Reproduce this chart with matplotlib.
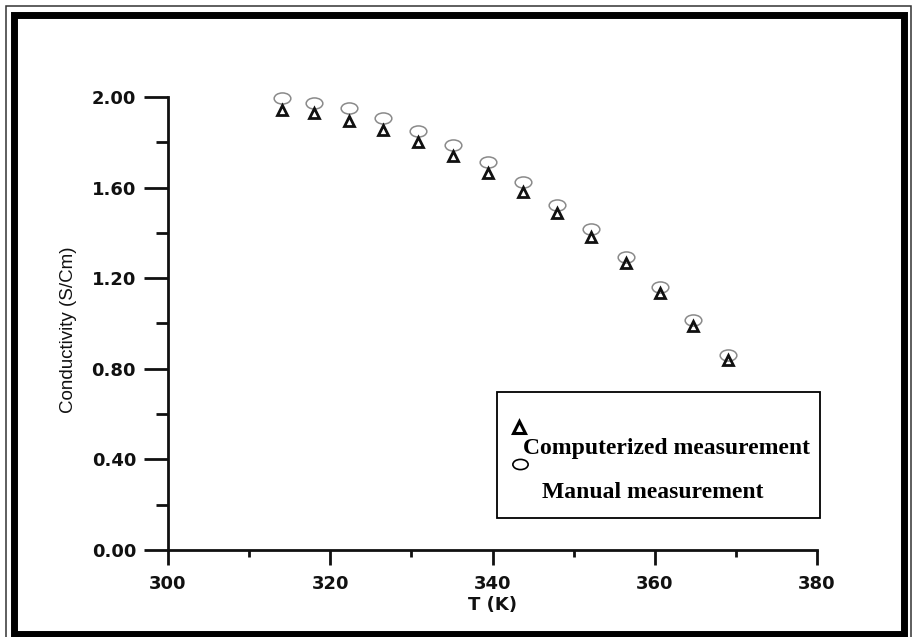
import numpy as np
import matplotlib
matplotlib.use("Agg")
import matplotlib.pyplot as plt
from matplotlib.patches import Rectangle
from matplotlib.path import Path
from matplotlib.transforms import Affine2D
from matplotlib.lines import Line2D

# data
temp_k = [314.0, 318.0, 322.3, 326.5, 330.8, 335.1, 339.4, 343.7, 348.0, 352.1, 356.4, 360.6, 364.7, 369.0]
manual = [1.996, 1.975, 1.950, 1.906, 1.851, 1.788, 1.712, 1.626, 1.523, 1.417, 1.295, 1.162, 1.015, 0.861]
computerized = [1.943, 1.928, 1.895, 1.854, 1.803, 1.740, 1.666, 1.582, 1.487, 1.382, 1.267, 1.135, 0.989, 0.839]

x_ticks = [300, 320, 340, 360, 380]
y_ticks = [0.0, 0.4, 0.8, 1.2, 1.6, 2.0]

W, H = 917, 637
fig = plt.figure(figsize=(W / 100, H / 100), dpi=100)

# axes placed in pixel terms
left, right, top, bottom = 168, 817, 97, 550
ax = fig.add_axes([left / W, 1 - bottom / H, (right - left) / W, (bottom - top) / H])

# flattened ellipse marker for the manual points
ellipse = Path.unit_circle().transformed(Affine2D().scale(1.5, 1.0))

ax.plot(temp_k, manual, linestyle="none", marker=ellipse, markersize=12,
        markerfacecolor="none", markeredgecolor="#8a8a8a", markeredgewidth=1.1, clip_on=False)
ax.plot(temp_k, computerized, linestyle="none", marker="^", markersize=7,
        markerfacecolor="none", markeredgecolor="#111111", markeredgewidth=2.0, clip_on=False)

ax.set_xlim(300, 380)
ax.set_ylim(0, 2.0)
ax.set_xticks(x_ticks)
ax.set_xticks(np.arange(310, 380, 20), minor=True)
ax.set_yticks(y_ticks)
ax.set_yticks(np.arange(0.2, 2.0, 0.4), minor=True)
ax.set_xticklabels([str(t) for t in x_ticks])
ax.set_yticklabels(["%.2f" % t for t in y_ticks])

for s in ["top", "right"]:
    ax.spines[s].set_visible(False)
for s in ["left", "bottom"]:
    ax.spines[s].set_linewidth(2.0)
    ax.spines[s].set_color("#111111")

ax.tick_params(axis="y", which="major", length=17, width=2.0, pad=6, color="#111111")
ax.tick_params(axis="y", which="minor", length=8.5, width=2.0, color="#111111")
ax.tick_params(axis="x", which="major", length=11, width=2.0, pad=7, color="#111111")
ax.tick_params(axis="x", which="minor", length=5, width=2.0, color="#111111")

for lab in ax.get_xticklabels() + ax.get_yticklabels():
    lab.set_fontfamily("DejaVu Sans")
    lab.set_fontweight("bold")
    lab.set_fontsize(13)
    lab.set_color("#111111")

ax.set_xlabel("T (K)", fontfamily="DejaVu Sans", fontweight="bold", fontsize=13, color="#111111")
ax.xaxis.set_label_coords((492 - left) / (right - left), (bottom - 596) / (bottom - top))
ax.set_ylabel("Conductivity (S/Cm)", fontfamily="Liberation Sans", fontsize=13.5, color="#111111")
ax.yaxis.set_label_coords((77 - left) / (right - left), (bottom - 330) / (bottom - top))

# hand-made legend box
def px(x, y):
    return x / W, 1 - y / H

lx0, ly0, lx1, ly1 = 497, 392, 820, 518
fig.add_artist(Rectangle(px(lx0, ly1), (lx1 - lx0) / W, (ly1 - ly0) / H,
                         transform=fig.transFigure, fill=False, edgecolor="black", linewidth=1.3))
fig.add_artist(Line2D([px(519, 427)[0]], [px(519, 427)[1]], transform=fig.transFigure,
                      marker="^", markersize=9, markerfacecolor="none",
                      markeredgecolor="black", markeredgewidth=2.2, linestyle="none"))
fig.add_artist(Line2D([px(520, 464)[0]], [px(520, 464)[1]], transform=fig.transFigure,
                      marker=ellipse, markersize=11, markerfacecolor="none",
                      markeredgecolor="black", markeredgewidth=1.2, linestyle="none"))
fig.text(*px(523, 454), "Computerized measurement", fontfamily="Liberation Serif",
         fontweight="bold", fontsize=17, ha="left", va="baseline")
fig.text(*px(542, 498), "Manual measurement", fontfamily="Liberation Serif",
         fontweight="bold", fontsize=17, ha="left", va="baseline")

# double frame around the picture
fig.add_artist(Rectangle(px(6, H + 10), (W - 12) / W, (H + 4) / H, transform=fig.transFigure,
                         fill=False, edgecolor="#333333", linewidth=1.1))
fig.add_artist(Rectangle(px(13.5, 633.5), (W - 27) / W, (633.5 - 15) / H, transform=fig.transFigure,
                         fill=False, edgecolor="black", linewidth=5.0))

fig.savefig("out.png", dpi=100, facecolor="white")
